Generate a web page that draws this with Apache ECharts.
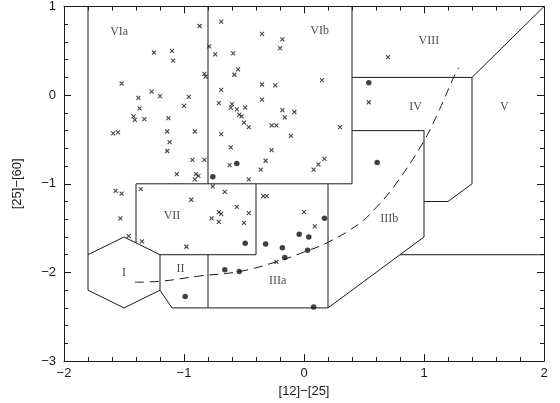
<!DOCTYPE html>
<html><head><meta charset="utf-8">
<script src="https://cdn.jsdelivr.net/npm/echarts@6/dist/echarts.min.js"></script>
<style>html,body{margin:0;padding:0;background:#fff}#c{width:560px;height:403px}</style>
</head><body><div id="c"></div>
<script>
// axis ticks
const xTicks = [-2, -1, 0, 1, 2];
const yTicks = [-3, -2, -1, 0, 1];
const xTitle = '[12]−[25]';
const yTitle = '[25]−[60]';

// crosses: [12]-[25], [25]-[60]
const crossX = [-0.87,-1.25,-1.10,-1.09,-1.52,-1.38,-1.27,-1.20,-0.96,-1.00,-1.37,-1.42,-1.41,-1.33,-1.13,-1.59,-1.55,-1.14,-0.91,-1.12,-1.14,-0.93,-0.83,-1.06,-0.90,-0.88,-0.91,-0.83,-0.82,
  -0.79,-0.74,-0.69,-0.35,-0.18,-0.20,-0.59,-0.55,-0.58,0.15,-0.35,-0.24,-0.69,-0.71,-0.35,-0.60,-0.61,-0.56,-0.49,-0.18,-0.08,-0.16,-0.54,-0.52,-0.50,-0.46,-0.27,-0.23,0.30,-0.11,-0.69,-0.61,-0.27,-0.32,0.17,0.12,0.08,-0.36,-0.62,-0.46,
  -1.57,-1.52,-1.36,-0.94,-1.53,-1.46,-1.35,-0.98,-0.77,-0.71,-0.69,-0.71,-0.66,-0.56,-0.46,-0.50,-0.34,-0.31,0.00,0.09,-0.23,0.70,0.54,-0.76];
const crossY = [0.78,0.48,0.50,0.39,0.13,-0.03,0.04,-0.01,-0.02,-0.12,-0.15,-0.24,-0.28,-0.27,-0.26,-0.43,-0.42,-0.41,-0.41,-0.53,-0.63,-0.73,-0.73,-0.89,-0.89,-0.91,-0.95,0.24,0.21,
  0.55,0.46,0.83,0.69,0.63,0.53,0.47,0.29,0.23,0.17,0.12,0.11,0.06,-0.09,-0.05,-0.10,-0.14,-0.16,-0.14,-0.17,-0.19,-0.25,-0.22,-0.24,-0.31,-0.36,-0.34,-0.34,-0.36,-0.46,-0.44,-0.59,-0.62,-0.74,-0.72,-0.78,-0.84,-0.84,-0.79,-0.95,
  -1.08,-1.11,-1.06,-1.18,-1.39,-1.59,-1.65,-1.71,-1.39,-1.32,-1.34,-1.43,-1.09,-1.26,-1.33,-1.44,-1.14,-1.14,-1.32,-1.48,-1.88,0.43,-0.08,-1.03];

// filled dots
const dotX = [-0.76,-0.56,0.17,-0.04,0.04,-0.32,-0.49,-0.18,0.03,-0.16,-0.66,-0.54,0.08,-0.99,0.54,0.61];
const dotY = [-0.92,-0.77,-1.39,-1.57,-1.60,-1.68,-1.67,-1.72,-1.75,-1.83,-1.97,-1.99,-2.39,-2.27,0.14,-0.76];

// dashed reference curve
const curveX = [-1.41,-1.20,-0.87,-0.54,-0.23,0.00,0.20,0.46,0.60,0.75,0.99,1.13,1.25,1.29];
const curveY = [-2.11,-2.10,-2.04,-1.99,-1.88,-1.77,-1.66,-1.45,-1.27,-1.03,-0.54,-0.16,0.21,0.31];

// region boundaries (polylines, in axis units)
const regionLines = [
  [[-1.8,1],[-1.8,-1.8]],
  [[-1.8,-1.8],[-1.5,-1.6],[-1.2,-1.8],[-1.2,-2.2],[-1.5,-2.4],[-1.8,-2.2],[-1.8,-1.8]],
  [[-1.4,-1.0],[-1.4,-1.667]],
  [[-1.4,-1.0],[0.4,-1.0]],
  [[-0.8,1],[-0.8,-1.0]],
  [[0.4,1],[0.4,-1.0]],
  [[-0.4,-1.0],[-0.4,-1.8]],
  [[-1.2,-1.8],[-0.4,-1.8]],
  [[-0.8,-1.8],[-0.8,-2.4]],
  [[-1.2,-2.2],[-1.1,-2.4],[0.2,-2.4],[1.0,-1.6],[1.0,-0.4],[0.4,-0.4]],
  [[0.2,-1.0],[0.2,-2.4]],
  [[0.4,0.2],[1.4,0.2],[2.0,1.0]],
  [[1.4,0.2],[1.4,-1.0],[1.2,-1.2],[1.0,-1.2]],
  [[0.8,-1.8],[2.0,-1.8]]
];

// region names and where they sit
const regionNames = ['VIa','VIb','VIII','IV','V','VII','IIIb','I','II','IIIa'];
const regionPos = [[-1.54,0.71],[0.13,0.73],[1.04,0.61],[0.93,-0.13],[1.67,-0.13],[-1.10,-1.36],[0.71,-1.40],[-1.50,-2.00],[-1.03,-1.96],[-0.22,-2.10]];

const ink = '#1a1a1a';
const zip = (a,b) => a.map((v,i)=>[v,b[i]]);
const minus = v => String(v).replace('-', '−');

const series = [];
regionLines.forEach(pl => series.push({
  type:'line', data:pl, symbol:'none', silent:true, animation:false,
  lineStyle:{color:ink, width:1}, z:2
}));
series.push({
  type:'line', data:zip(curveX,curveY), symbol:'none', smooth:0.4, animation:false,
  lineStyle:{color:ink, width:1, type:[9,6]}, z:2
});
series.push({
  type:'scatter', data:zip(crossX,crossY), symbol:'path://M0,0L10,10M10,0L0,10', symbolSize:4,
  itemStyle:{color:'rgba(0,0,0,0)', borderColor:ink, borderWidth:1.1}, animation:false, z:3
});
series.push({
  type:'scatter', data:zip(dotX,dotY), symbol:'circle', symbolSize:5.5,
  itemStyle:{color:'#111'}, animation:false, z:3
});
series.push({
  type:'scatter', symbolSize:0, animation:false, silent:true,
  data: regionNames.map((n,i)=>({name:n, value:regionPos[i]})),
  label:{show:true, position:'inside', formatter:p=>p.name, color:'#1a1a1a',
    fontFamily:'"Liberation Serif","DejaVu Serif",serif', fontSize:12}
});

const axisCommon = {
  type:'value', interval:1,
  axisLine:{show:true, onZero:false, lineStyle:{color:ink, width:1}},
  axisTick:{show:true, inside:true, length:7, lineStyle:{color:ink}},
  minorTick:{show:true, splitNumber:5, length:4, lineStyle:{color:ink}},
  splitLine:{show:false}, minorSplitLine:{show:false}
};
const labelFont = {color:'#1a1a1a', fontFamily:'"Liberation Sans",Arial,sans-serif', fontSize:13};

const chart = echarts.init(document.getElementById('c'), null, {renderer:'canvas'});
chart.setOption({
  backgroundColor:'#fff',
  grid:{left:64, right:16, top:6, bottom:37},
  xAxis:[
    Object.assign({}, axisCommon, {min:xTicks[0], max:xTicks[xTicks.length-1], position:'bottom',
      axisLabel:Object.assign({margin:6, formatter:minus}, labelFont),
      name:xTitle, nameLocation:'middle', nameGap:22, nameTextStyle:labelFont}),
    Object.assign({}, axisCommon, {min:xTicks[0], max:xTicks[xTicks.length-1], position:'top',
      axisLabel:{show:false}})
  ],
  yAxis:[
    Object.assign({}, axisCommon, {min:yTicks[0], max:yTicks[yTicks.length-1], position:'left',
      axisLabel:Object.assign({margin:8, formatter:minus}, labelFont),
      name:yTitle, nameLocation:'middle', nameGap:40, nameRotate:90, nameTextStyle:labelFont}),
    Object.assign({}, axisCommon, {min:yTicks[0], max:yTicks[yTicks.length-1], position:'right',
      axisLabel:{show:false}})
  ],
  series
});
</script></body></html>
